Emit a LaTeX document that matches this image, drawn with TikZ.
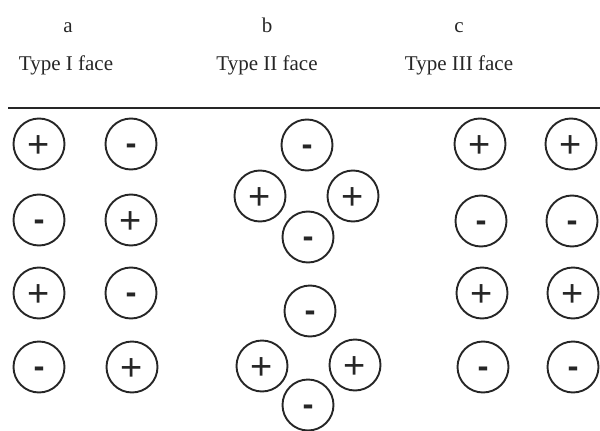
\documentclass[tikz,border=0pt]{standalone}
\usepackage{fontspec}
\setmainfont{Liberation Serif}
\newfontfamily\signfont{Liberation Sans}
\definecolor{ink}{HTML}{262626}
\newcommand\pl{\raisebox{-0.36em}{\mdseries+}}
\newcommand\mn{\raisebox{-10.5pt}{\fontsize{33}{33}\selectfont\bfseries-}}
\tikzset{
  ion/.style={circle, draw=ink, line width=1.9pt, minimum size=51pt, inner sep=0pt,
    text height=0pt, text depth=0pt, text=ink, font=\signfont\fontsize{38}{38}\selectfont},
  lbl/.style={anchor=base, text=ink, font=\fontsize{21}{23}\selectfont, inner sep=0pt}
}
\begin{document}
\begin{tikzpicture}[x=1pt,y=-1pt]
\useasboundingbox (0,0) rectangle (600,431);
% headers
\node[lbl] (la) at (68,32) {a};
\node[lbl] (lb) at (267,32) {b};
\node[lbl] (lc) at (459,32) {c};
\node[lbl] (ta) at (66,70) {Type I face};
\node[lbl] (tb) at (267,70) {Type II face};
\node[lbl] (tc) at (459,70) {Type III face};
\coordinate (l0) at (8,108);
\coordinate (l1) at (600,108);
\draw[ink, line width=2pt] (l0) -- (l1);
% column a
\node[ion] (a1) at (39,144) {\pl};
\node[ion] (a2) at (131,144) {\mn};
\node[ion] (a3) at (39,220) {\mn};
\node[ion] (a4) at (131,220) {\pl};
\node[ion] (a5) at (39,293) {\pl};
\node[ion] (a6) at (131,293) {\mn};
\node[ion] (a7) at (39,367) {\mn};
\node[ion] (a8) at (132,367) {\pl};
% column b
\node[ion] (b1) at (307,145) {\mn};
\node[ion] (b2) at (260,196) {\pl};
\node[ion] (b3) at (353,196) {\pl};
\node[ion] (b4) at (308,237) {\mn};
\node[ion] (b5) at (310,311) {\mn};
\node[ion] (b6) at (262,366) {\pl};
\node[ion] (b7) at (355,365) {\pl};
\node[ion] (b8) at (308,405) {\mn};
% column c
\node[ion] (c1) at (480,144) {\pl};
\node[ion] (c2) at (571,144) {\pl};
\node[ion] (c3) at (481,221) {\mn};
\node[ion] (c4) at (572,221) {\mn};
\node[ion] (c5) at (482,293) {\pl};
\node[ion] (c6) at (573,293) {\pl};
\node[ion] (c7) at (483,367) {\mn};
\node[ion] (c8) at (573,367) {\mn};
\end{tikzpicture}
\end{document}
